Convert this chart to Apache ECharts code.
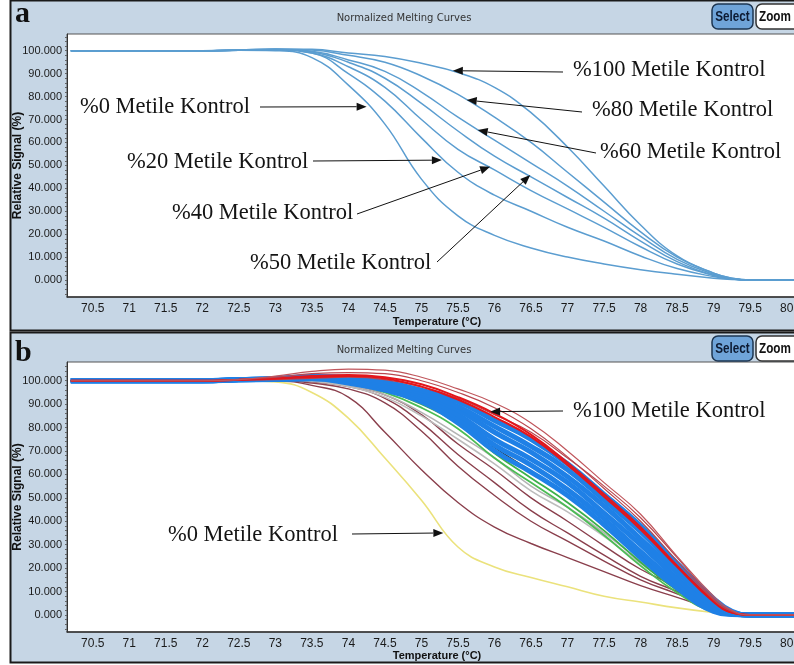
<!DOCTYPE html>
<html><head><meta charset="utf-8">
<script src="https://cdn.jsdelivr.net/npm/echarts@6/dist/echarts.min.js"></script>
<style>html,body{margin:0;padding:0;background:#fff;}#c{width:794px;height:665px;}</style>
</head><body><div id="c"></div>
<script>
// ---------------- DATA ----------------
const temps = [70.2, 72, 72.5, 73, 73.5, 74, 74.5, 75, 75.5, 76, 76.5, 77, 77.5, 78, 78.5, 79, 79.25, 79.5, 80, 80.3];
const xLabelValues = [70.5, 71, 71.5, 72, 72.5, 73, 73.5, 74, 74.5, 75, 75.5, 76, 76.5, 77, 77.5, 78, 78.5, 79, 79.5, 80];
const yLabelValues = [0, 10, 20, 30, 40, 50, 60, 70, 80, 90, 100];

// Panel a: methylation controls
const a100 = [100,100,100.3,100.8,100.6,99,97.5,94.5,90.5,84,73,58,41,24,10.5,3,0.8,0,0,0];
const a80  = [100,100,100.3,100.7,100.3,98,95,89,81,71,60,47,34,21,10,3,0.8,0,0,0];
const a60  = [100,100,100.3,100.6,99.8,96,91,82,71,61,51,41,30,19,9,2.5,0.6,0,0,0];
const a50  = [100,100,100.2,100.5,99.5,95,88,77,65,54,45,36,27,17,8,2,0.5,0,0,0];
const a40  = [100,100,100.2,100.4,99,93,84,70,57,48,39,31,23,14.5,7,2,0.5,0,0,0];
const a20  = [100,100,100.2,100.3,99,90,78,62,47,37,30,23,17,10.5,5,1.5,0.4,0,0,0];
const a0   = [100,100,100.2,100,97,85,68,44,28,19.5,14,10,7,4.5,2.5,0.8,0.2,0,0,0];

// Panel b: samples
const yellow0 = [100,100,100,99.5,95,84,67,49,29,20.5,16,12,8,5.5,3,1,0.3,0,0,0];
const brown1 = [100,100,100.2,100,98,93,78,62,48,37.5,30.5,24.5,18.5,12.5,7.5,2.5,0.6,0,0,0];
const brown2 = [100,100,100.2,100.3,99,96.5,90.5,78.5,63.5,51,40,31.5,23,15,9,2.8,0.7,0,0,0];
const brown3 = [100,100,100.2,100.4,99.5,97.5,92.5,82,68.5,56.5,44.5,35,25.5,16.5,10,3,0.8,0,0,0];
const brown4 = [100,100,100.3,100.5,99.8,98,94,85.5,73,62,50,40,29.5,19.5,12,3.5,1,0,0,0];
const gray1 = [100,100,100.3,100.6,100,98,94,86.5,77,67,55,46,35,23,12,2.5,0.5,0,0,0];
const gray2 = [100,100,100.3,100.5,99.8,97.5,93,85,75,64.5,53,44,33.5,22,11.5,2.4,0.5,0,0,0];
const green1 = [100,100,100.4,100.8,100.8,99.5,96,90,81.5,69,58.5,48,36,22.5,10.5,1.5,0.2,0,0,0];
const green2 = [100,100,100.4,100.7,100.5,99,95,88.5,79.5,67,56.5,46,34,21,9.5,1.2,0.2,0,0,0];
const black1 = [100,100,100.4,100.8,100.8,99.5,96.5,91,83,71.5,61.5,51,39,25.5,12,2,0.3,0,0,0];
const blue1 = [100,100,100.5,101,101.8,101.5,99.5,96,91,83,75,64.5,51.5,38,22,7,1.5,0,0,0];
const blue2 = [100,100,100.5,100.9,101.6,101,98.8,95,89,80.5,72,62,49,35.5,20,6,1.2,0,0,0];
const blue3 = [100,100,100.5,100.8,101.4,100.5,98,94,87.5,78,69.5,59,46.5,32.5,18,5,0.9,0,0,0];
const blue4 = [100,100,100.4,100.7,101.2,100,97.5,93,85.5,75,66.5,56.5,43.5,30,15.5,3.5,0.6,0,0,0];
const blue5 = [100,100,100.4,100.6,101,99.5,96.8,92,84,72.5,64,53.5,41,27,13.5,2.5,0.4,0,0,0];
const blue6 = [100,100,100.3,100.5,100.8,99,96,91,82,70,61,51,38.5,24.5,11.5,1.5,0.2,0,0,0];
const red1 = [100,100,100.5,102,104,105,104.5,101.5,96.5,90.5,82,70,56.5,43,25,8,2,0,0,0];
const red2 = [100,100,100.5,101.5,103,103.5,103,100,95,88.5,79.5,67.5,54,40,23,6.5,1.5,0,0,0];
const red3 = [100,100,100.4,101,102,102.5,101.5,98.5,93,86,77,65,51.5,37.5,21,6,1,0,0,0];
const red4 = [100,100,100.4,101,101.5,102,101,97.5,92,84.5,76,64,50.5,36.5,20.5,5.5,1,0,0,0];
const red5 = [100,100,100.3,100.5,101,101.5,100.5,97.5,92.5,85.5,78,67,55,41.5,24.5,7,1.5,0,0,0];

// annotations: label text, tip on curve in data units
const annA = [
  {text:'%100 Metile Kontrol', tip:[75.43, 91.3]},
  {text:'%80 Metile Kontrol',  tip:[75.62, 78.5]},
  {text:'%60 Metile Kontrol',  tip:[75.77, 65.4]},
  {text:'%0 Metile Kontrol',   tip:[74.25, 75.6]},
  {text:'%20 Metile Kontrol',  tip:[75.28, 52.3]},
  {text:'%40 Metile Kontrol',  tip:[75.94, 49.4]},
  {text:'%50 Metile Kontrol',  tip:[76.49, 45.8]}
];
const annB = [
  {text:'%100 Metile Kontrol', tip:[75.94, 86.8]},
  {text:'%0 Metile Kontrol',   tip:[75.30, 35.0]}
];

// ---------------- LAYOUT ----------------
const annALayout = [
  {x:573, y:70,  tail:[563,72]},
  {x:592, y:110, tail:[582,112]},
  {x:600, y:152, tail:[596,153]},
  {x:80,  y:107, tail:[260,107]},
  {x:127, y:162, tail:[313,161]},
  {x:172, y:213, tail:[357,214]},
  {x:250, y:263, tail:[437,262]}
];
const annBLayout = [
  {x:573, y:411, tail:[563,411]},
  {x:168, y:535, tail:[352,534]}
];

const BG = '#c6d6e5';
const sans = "'Liberation Sans',Arial,sans-serif";
const serif = "'Liberation Serif','Times New Roman',serif";
const pairs = vals => temps.map((t, i) => [t, vals[i]]);
const yMinor = [];
for (let v = -6; v <= 106; v += 2) yMinor.push(v);

function xAx(gi, gap) {
  return {
    type:'value', gridIndex:gi, min:70.148, max:80.278,
    axisLine:{show:true, onZero:false, lineStyle:{color:'#333', width:1.5}},
    axisTick:{show:false}, splitLine:{show:false},
    axisLabel:{customValues:xLabelValues, formatter:v => String(v), color:'#1a1a1a',
      fontFamily:sans, fontSize:12, margin:6},
    name:'Temperature (°C)', nameLocation:'middle', nameGap:gap, nameMoveOverlap:false,
    nameTextStyle:{fontWeight:'bold', fontSize:11, fontFamily:sans, color:'#111'}
  };
}
function yAx(gi, min, max) {
  return {
    type:'value', gridIndex:gi, min:min, max:max,
    axisLine:{show:true, lineStyle:{color:'#333', width:1}},
    axisTick:{show:true, customValues:yMinor, length:2, lineStyle:{color:'#666'}},
    axisLabel:{customValues:yLabelValues, formatter:v => v.toFixed(3), color:'#1a1a1a',
      fontFamily:sans, fontSize:11, margin:5},
    splitLine:{show:false},
    name:'Relative Signal (%)', nameLocation:'middle', nameGap:43, nameRotate:90, nameMoveOverlap:false,
    nameTextStyle:{fontWeight:'bold', fontSize:12, fontFamily:sans, color:'#111'}
  };
}
function line(gi, vals, color, width) {
  return {type:'line', xAxisIndex:gi, yAxisIndex:gi, data:pairs(vals), symbol:'none',
    smooth:0.45, lineStyle:{color:color, width:width}, silent:true};
}

const cA = '#5b9dd0';
const cB = '#1f80e6';
const series = [
  line(0, a0, cA, 1.5), line(0, a20, cA, 1.5), line(0, a40, cA, 1.5), line(0, a50, cA, 1.5),
  line(0, a60, cA, 1.5), line(0, a80, cA, 1.5), line(0, a100, cA, 1.5),
  line(1, yellow0, '#ebe27c', 1.6),
  line(1, brown1, '#8a3f4c', 1.4), line(1, brown2, '#8a3f4c', 1.4),
  line(1, brown3, '#8a3f4c', 1.4), line(1, brown4, '#8a3f4c', 1.4),
  line(1, gray1, '#b3b3b3', 1.6), line(1, gray2, '#bdbdbd', 1.6),
  line(1, green1, '#3cb04a', 1.8), line(1, green2, '#4cbc55', 1.8),
  line(1, black1, '#2a2a2a', 1.4),
  line(1, blue6, cB, 5), line(1, blue5, cB, 5), line(1, blue4, cB, 5),
  line(1, blue3, cB, 5), line(1, blue2, cB, 5), line(1, blue1, cB, 5),
  line(1, red5, '#b9474f', 1.2), line(1, red4, '#e3161c', 2), line(1, red3, '#e3161c', 2),
  line(1, red2, '#b9474f', 1.2), line(1, red1, '#c0565c', 1.2)
];

function panelDecor(y0, letter, baseY) {
  return [
    {type:'rect', z:-10, shape:{x:10.5, y:y0 + 0.5, width:800, height:330}, style:{fill:BG, stroke:'#1a1a1a', lineWidth:2}},
    {type:'text', z:50, style:{text:letter, x:15, y:baseY, verticalAlign:'bottom', fontSize:30, fontWeight:'bold', fontFamily:serif, fill:'#111'}},
    {type:'text', z:50, style:{text:'Normalized Melting Curves', x:404, y:y0 + 18, align:'center', verticalAlign:'middle', fontSize:10, fontFamily:"'DejaVu Sans',sans-serif", fill:'#333'}},
    {type:'rect', z:50, shape:{x:712, y:y0 + 4, width:41, height:25, r:6}, style:{fill:'#6fa4d9', stroke:'#1d3652', lineWidth:1.5}},
    {type:'text', z:51, x:732.5, y:y0 + 17, scaleX:0.78, style:{text:'Select', x:0, y:0, align:'center', verticalAlign:'middle', fontSize:15, fontWeight:'bold', fontFamily:sans, fill:'#0d1b33'}},
    {type:'rect', z:50, shape:{x:756, y:y0 + 4, width:46, height:25, r:6}, style:{fill:'#ffffff', stroke:'#333', lineWidth:1.5}},
    {type:'text', z:51, x:759, y:y0 + 17, scaleX:0.78, style:{text:'Zoom', x:0, y:0, align:'left', verticalAlign:'middle', fontSize:15, fontWeight:'bold', fontFamily:sans, fill:'#111'}}
  ];
}

const chart = echarts.init(document.getElementById('c'), null, {renderer:'canvas'});
const option = {
  animation:false,
  backgroundColor:'#ffffff',
  grid:[
    {left:67, top:34, width:740, height:263, outerBoundsMode:'none', containLabel:false, show:true, backgroundColor:'#ffffff', borderColor:'#555', borderWidth:1},
    {left:67, top:362, width:740, height:270, outerBoundsMode:'none', containLabel:false, show:true, backgroundColor:'#ffffff', borderColor:'#555', borderWidth:1}
  ],
  xAxis:[xAx(0, 19), xAx(1, 18)],
  yAxis:[yAx(0, -7.4, 107.3), yAx(1, -7.3, 108)],
  series:series,
  graphic:[]
};
chart.setOption(option);

function arrowEls(gi, ann, lay) {
  const els = [];
  ann.forEach((a, i) => {
    const L = lay[i];
    const tip = chart.convertToPixel({gridIndex:gi}, a.tip);
    const [tx, ty] = L.tail;
    const dx = tip[0] - tx, dy = tip[1] - ty, len = Math.hypot(dx, dy);
    const ux = dx / len, uy = dy / len, hl = 10, hw = 4;
    const bx = tip[0] - ux * hl, by = tip[1] - uy * hl;
    els.push({type:'text', z:60, style:{text:a.text, x:L.x, y:L.y, verticalAlign:'middle', fontSize:22.5, fontFamily:serif, fill:'#141414'}});
    els.push({type:'line', z:60, shape:{x1:tx, y1:ty, x2:bx, y2:by}, style:{stroke:'#111', lineWidth:1}});
    els.push({type:'polygon', z:60, shape:{points:[[tip[0], tip[1]], [bx - uy * hw, by + ux * hw], [bx + uy * hw, by - ux * hw]]}, style:{fill:'#111'}});
  });
  return els;
}

chart.setOption({
  graphic: [].concat(panelDecor(0, 'a', 29), panelDecor(332, 'b', 368), arrowEls(0, annA, annALayout), arrowEls(1, annB, annBLayout))
});
</script></body></html>
